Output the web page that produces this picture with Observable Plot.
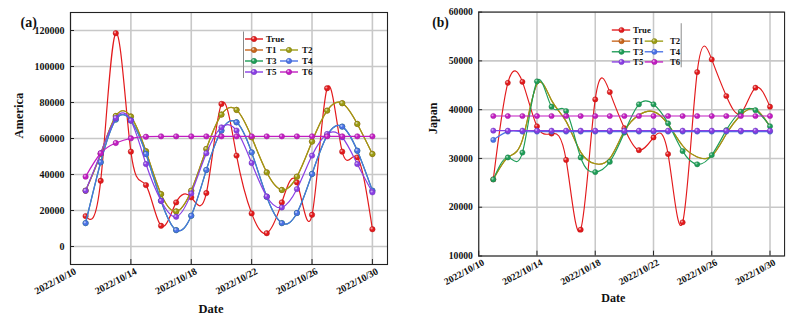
<!DOCTYPE html>
<html>
<head>
<meta charset="utf-8">
<script src="https://cdn.jsdelivr.net/npm/d3@7"></script>
<script src="https://cdn.jsdelivr.net/npm/@observablehq/plot@0.6"></script>
<style>
html,body{margin:0;padding:0;background:#fff;overflow:hidden;}
#wrap{position:relative;width:787px;height:320px;overflow:hidden;background:#fff;}
.panel{position:absolute;top:0;}
</style>
</head>
<body>
<div id="wrap"><div id="pa" class="panel" style="left:0"></div><div id="pb" class="panel" style="left:395px"></div></div>
<script>
// ---------- data ----------
const dates = ["2022-10-11","2022-10-12","2022-10-13","2022-10-14","2022-10-15","2022-10-16","2022-10-17","2022-10-18","2022-10-19","2022-10-20",
               "2022-10-21","2022-10-22","2022-10-23","2022-10-24","2022-10-25","2022-10-26","2022-10-27","2022-10-28","2022-10-29","2022-10-30"];
const seriesNames = ["True","T1","T2","T3","T4","T5","T6"];
const seriesColors = ["#e31a1c","#c8661c","#9c9c14","#1f9d58","#4a72e6","#8a3fe4","#c21dc2"];
const xTickLabels = ["2022/10/10","2022/10/14","2022/10/18","2022/10/22","2022/10/26","2022/10/30"];
const americaTicks = [0,20000,40000,60000,80000,100000,120000];
const japanTicks = [10000,20000,30000,40000,50000,60000];

// America (a)
const americaTrue = [16900,36500,118500,52700,34100,11500,24500,27300,29700,79200,50500,18400,7400,24500,35600,17600,87900,52700,49500,9600];
const americaT1   = [31000,51400,72500,72200,52900,29100,19500,31000,54200,73300,75900,60700,41200,31400,38800,58300,75500,79600,68100,51400];
const americaT2   = [31000,51400,72500,72200,52900,29100,19500,31000,54200,73300,75900,60700,41200,31400,38800,58300,75500,79600,68100,51400];
const americaT3   = [13000,46800,70500,70000,51400,25400,9100,17100,42500,64400,69000,52300,27600,13000,18600,40300,61600,66600,53200,31000];
const americaT4   = [13000,46800,70500,70000,51400,25400,9100,17100,42500,64400,69000,52300,27600,13000,18600,40300,61600,66600,53200,31000];
const americaT5   = [31000,51800,71400,70000,45800,25400,16500,29500,51800,66200,64400,46400,27800,21700,31900,50500,62500,60700,45800,30100];
const americaT6   = [38800,51800,57500,60100,61000,61200,61200,61200,61200,61200,61200,61200,61200,61200,61200,61200,61200,61200,61200,61200];

// Japan (b)
const japanTrue = [25700,45500,45700,36600,35100,29700,15400,42100,43600,36200,31700,34300,30900,16900,47700,50300,42800,39300,44500,40600];
const japanT1   = [25700,30200,33800,45200,41900,37600,31300,28900,30000,35600,38900,39600,37000,32600,30300,30500,35000,38900,40100,36500];
const japanT2   = [25700,30200,33800,45200,41900,37600,31300,28900,30000,35600,38900,39600,37000,32600,30300,30500,35000,38900,40100,36500];
const japanT3   = [25700,30200,31200,45800,40600,39700,30200,27200,29300,35300,41100,41100,37200,31500,28800,30700,35800,39600,39900,36600];
const japanT4   = [33800,35500,35500,35500,35500,35500,35500,35500,35500,35500,35500,35500,35500,35500,35500,35500,35500,35500,35500,35500];
const japanT5   = [35700,35700,35700,35700,35700,35700,35700,35700,35700,35700,35700,35700,35700,35700,35700,35700,35700,35700,35700,35700];
const japanT6   = [38700,38700,38700,38700,38700,38700,38700,38700,38700,38700,38700,38700,38700,38700,38700,38700,38700,38700,38700,38700];

// ---------- drawing ----------
const parseDate = d3.utcParse("%Y-%m-%d");
const parseTick = d3.utcParse("%Y/%m/%d");
const fmtTick = d3.utcFormat("%Y/%m/%d");
const font = "'Liberation Serif','Times New Roman',serif";

function panel(o) {
  const tickDates = xTickLabels.map(parseTick);
  const rows = [];
  o.values.forEach((vals, i) => vals.forEach((v, j) => rows.push({date: parseDate(dates[j]), series: seriesNames[i], value: v})));
  const marks = [
    Plot.gridX(tickDates, {stroke: "#c8c8c8", strokeOpacity: 1, strokeWidth: 1.6}),
    Plot.gridY(o.yTicks, {stroke: "#c8c8c8", strokeOpacity: 1, strokeWidth: 1.6})
  ];
  seriesNames.forEach((s, i) => {
    const d = rows.filter(r => r.series === s);
    const c = seriesColors[i];
    marks.push(Plot.line(d, {x: "date", y: "value", stroke: c, strokeWidth: 1.2, curve: "natural"}));
    if (!o.noDots.includes(s)) {
      marks.push(Plot.dot(d, {x: "date", y: "value", r: 2.7, fill: c, stroke: d3.color(c).darker(0.6).formatHex(), strokeWidth: 0.5}));
      marks.push(Plot.dot(d, {x: "date", y: "value", r: 1.1, fill: "white", fillOpacity: 0.55, dx: -0.8, dy: -0.8}));
    }
  });
  marks.push(
    Plot.frame({stroke: "#222", strokeWidth: 1.1}),
    Plot.axisY(o.yTicks, {tickSize: 0, tickPadding: 6, tickFormat: d => String(d), fontSize: 10, fontWeight: "bold", label: null}),
    Plot.axisY(o.yTicks, {tickSize: 4, dx: 4, fill: "none", stroke: "#222", label: null}),
    Plot.axisX(tickDates, {tickSize: 0, tickPadding: 6, tickRotate: -28, dx: 5, tickFormat: fmtTick, fontSize: 10, fontWeight: "bold", label: null}),
    Plot.axisX(tickDates, {tickSize: 5, dy: -5, fill: "none", stroke: "#222", label: null}),
    Plot.text([o.yLabel], {frameAnchor: "left", dx: o.yLabelDx, rotate: -90, fontSize: 12.5, fontWeight: "bold"}),
    Plot.text(["Date"], {frameAnchor: "bottom", dx: o.dateDx, dy: 48, fontSize: 12.5, fontWeight: "bold"}),
    Plot.text([o.tag], {frameAnchor: "top-left", dx: o.tagDx, dy: 5, fontSize: 14, fontWeight: "bold"})
  );
  const svg = Plot.plot({
    width: o.width, height: 320,
    marginLeft: o.marginLeft, marginRight: o.marginRight, marginTop: 12, marginBottom: 56,
    x: {type: "utc", domain: [parseTick("2022/10/10"), parseDate("2022-10-31")], label: null},
    y: {domain: o.yDomain, label: null},
    style: {fontFamily: font, fontWeight: "bold", fontSize: "10px", color: "#111", background: "#fff", overflow: "visible"},
    marks
  });
  // legend
  const L = o.legend;
  const g = d3.select(svg).append("g").attr("font-family", font).attr("font-weight", "bold").attr("font-size", 9).attr("text-anchor", "start");
  g.append("line").attr("x1", L.vx).attr("x2", L.vx).attr("y1", L.vy1).attr("y2", L.vy2).attr("stroke", "#888").attr("stroke-width", 1);
  const pos = [[0,0],[1,0],[1,1],[2,0],[2,1],[3,0],[3,1]];
  seriesNames.forEach((s, i) => {
    const [r, c] = pos[i];
    const y = L.rows[r], col = L.cols[c], color = seriesColors[i];
    g.append("line").attr("x1", col[0]).attr("x2", col[1]).attr("y1", y).attr("y2", y).attr("stroke", color).attr("stroke-width", 1.4);
    g.append("circle").attr("cx", col[2]).attr("cy", y).attr("r", 2.7).attr("fill", color).attr("stroke", d3.color(color).darker(0.6).formatHex()).attr("stroke-width", 0.5);
    g.append("circle").attr("cx", col[2] - 0.8).attr("cy", y - 0.8).attr("r", 1.1).attr("fill", "white").attr("fill-opacity", 0.55);
    g.append("text").attr("x", col[3]).attr("y", y).attr("dy", "0.35em").attr("text-anchor", "start").attr("fill", "#111").text(s);
  });
  return svg;
}

document.getElementById("pa").appendChild(panel({
  values: [americaTrue, americaT1, americaT2, americaT3, americaT4, americaT5, americaT6], noDots: [],
  yTicks: americaTicks, yDomain: [-10000, 130000], yLabel: "America",
  width: 395, marginLeft: 70, marginRight: 8, yLabelDx: -52, dateDx: -18, tag: "(a)", tagDx: -50,
  legend: {vx: 243.5, vy1: 31.5, vy2: 78, rows: [39, 50, 61, 72], cols: [[245, 263, 254, 266], [280, 298, 289, 302]]}
}));
document.getElementById("pb").appendChild(panel({
  values: [japanTrue, japanT1, japanT2, japanT3, japanT4, japanT5, japanT6], noDots: ["T1", "T2"],
  yTicks: japanTicks, yDomain: [10000, 60000], yLabel: "Japan",
  width: 405, marginLeft: 86, marginRight: 3, yLabelDx: -47, dateDx: -19, tag: "(b)", tagDx: -48,
  legend: {vx: 295.7, vy1: 24, vy2: 69.5, rows: [31, 42.5, 53.5, 64], cols: [[224, 243, 234, 246], [258, 277, 268, 284]]}
}));
</script>
</body>
</html>
